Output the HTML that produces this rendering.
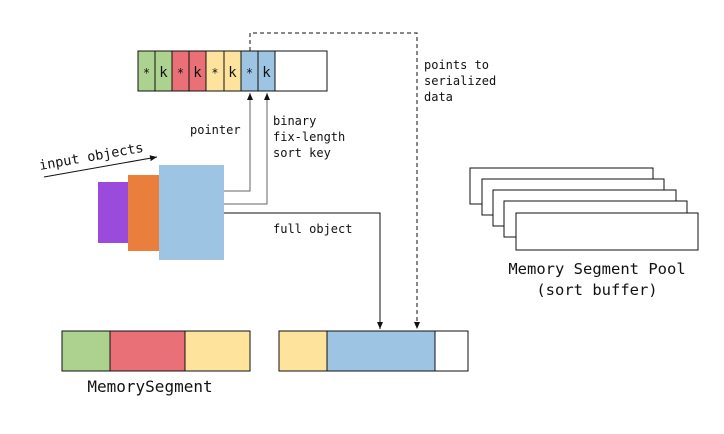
<!DOCTYPE html>
<html><head><style>
body{margin:0;background:#fff;}
svg text{font-family:"DejaVu Sans Mono","Liberation Mono",monospace;font-size:12px;fill:#111;}
</style></head><body>
<svg width="724" height="429" viewBox="0 0 724 429" xmlns="http://www.w3.org/2000/svg">
<defs>
<marker id="a" markerWidth="8" markerHeight="8" refX="7" refY="4" orient="auto" markerUnits="userSpaceOnUse"><path d="M0,1 L7,4 L0,7 Z" fill="#111"/></marker>
</defs>
<g stroke="#111" stroke-width="1">
<rect x="138" y="51" width="17" height="40" fill="#add290"/>
<rect x="155" y="51" width="17" height="40" fill="#add290"/>
<rect x="172" y="51" width="17" height="40" fill="#e97077"/>
<rect x="189" y="51" width="17" height="40" fill="#e97077"/>
<rect x="206" y="51" width="18" height="40" fill="#fde39c"/>
<rect x="224" y="51" width="17" height="40" fill="#fde39c"/>
<rect x="241" y="51" width="17" height="40" fill="#9ec4e4"/>
<rect x="258" y="51" width="17" height="40" fill="#9ec4e4"/>
<rect x="275" y="51" width="52" height="40" fill="#fff"/>
</g>
<g font-size="13">
<text x="146.5" y="77" text-anchor="middle">*</text><text x="163.5" y="77" text-anchor="middle" style="font-size:14px">k</text>
<text x="180.5" y="77" text-anchor="middle">*</text><text x="197.5" y="77" text-anchor="middle" style="font-size:14px">k</text>
<text x="215" y="77" text-anchor="middle">*</text><text x="232.5" y="77" text-anchor="middle" style="font-size:14px">k</text>
<text x="249.5" y="77" text-anchor="middle">*</text><text x="266.5" y="77" text-anchor="middle" style="font-size:14px">k</text>
</g>
<rect x="98" y="182" width="30" height="61" fill="#9b4bdc"/>
<rect x="128" y="175" width="31" height="76" fill="#ea7e3d"/>
<rect x="159" y="165" width="65" height="95" fill="#9ec4e4"/>
<g fill="none" stroke-width="1">
<path d="M224 191 H250 V93" stroke="#666" marker-end="url(#a)"/>
<path d="M224 204 H267 V93" stroke="#666" marker-end="url(#a)"/>
<path d="M224 213 H380 V329" stroke="#111" marker-end="url(#a)"/>
<path d="M250 51 V33 H417 V329" stroke="#111" stroke-dasharray="4,3" marker-end="url(#a)"/>
<path d="M44 177 L157 157" stroke="#111" marker-end="url(#a)"/>
</g>
<text x="40" y="170" transform="rotate(-10 40 170)" style="font-size:13.5px">input objects</text>
<text x="190" y="134">pointer</text>
<text x="273" y="125">binary</text>
<text x="273" y="141">fix-length</text>
<text x="273" y="157">sort key</text>
<text x="424" y="69">points to</text>
<text x="424" y="85">serialized</text>
<text x="424" y="101">data</text>
<text x="273" y="233">full object</text>
<g stroke="#111" fill="#fff">
<rect x="470" y="168" width="183" height="36"/>
<rect x="482" y="179" width="182" height="36"/>
<rect x="493" y="190" width="183" height="36"/>
<rect x="504" y="201" width="183" height="36"/>
<rect x="516" y="213" width="182" height="37"/>
</g>
<text x="597" y="274" text-anchor="middle" style="font-size:15.5px">Memory Segment Pool</text>
<text x="597" y="295" text-anchor="middle" style="font-size:15.5px">(sort buffer)</text>
<g stroke="#111">
<rect x="62" y="331" width="48" height="40" fill="#add290"/>
<rect x="110" y="331" width="75" height="40" fill="#e97077"/>
<rect x="185" y="331" width="65" height="40" fill="#fde39c"/>
<rect x="279" y="331" width="48" height="40" fill="#fde39c"/>
<rect x="327" y="331" width="108" height="40" fill="#9ec4e4"/>
<rect x="435" y="331" width="33" height="40" fill="#fff"/>
</g>
<text x="150" y="392" text-anchor="middle" style="font-size:16px">MemorySegment</text>
</svg>
</body></html>
